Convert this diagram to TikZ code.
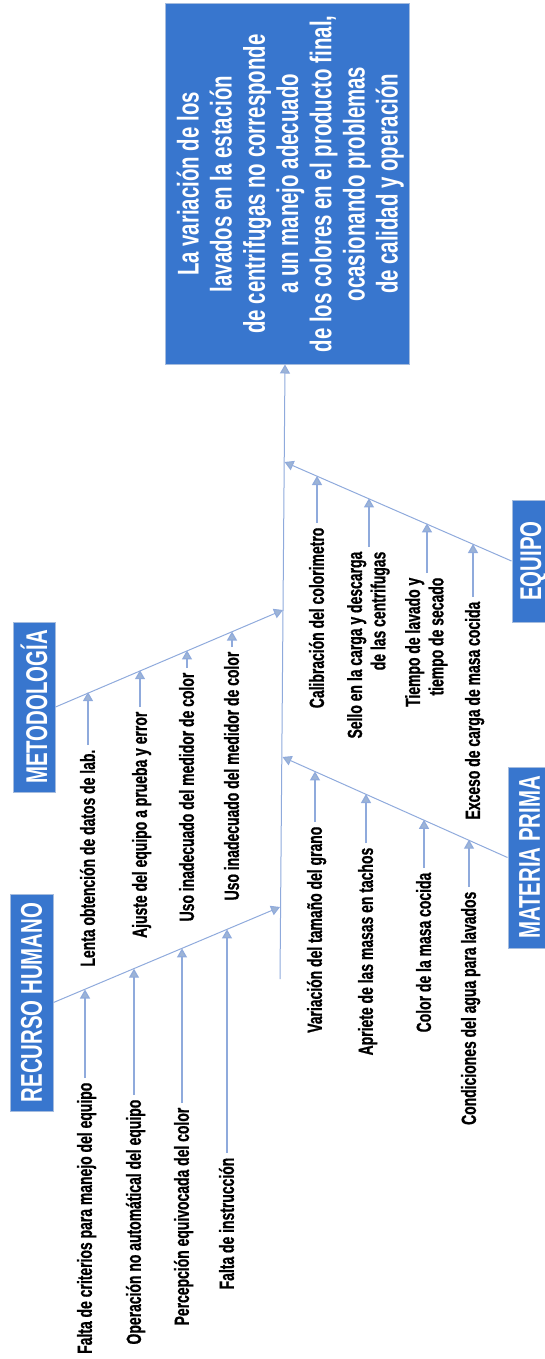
\documentclass[tikz,border=0pt]{standalone}
\usepackage{fontspec}
\setmainfont{Liberation Sans}
\newfontfamily\labfont[FakeStretch=0.68]{Liberation Sans}
\newfontfamily\causefont[FakeStretch=0.68,FakeBold=0.8]{Liberation Sans Bold}
\usetikzlibrary{arrows.meta}
\definecolor{boxblue}{RGB}{56,118,206}
\definecolor{boxedge}{RGB}{165,188,222}
\definecolor{linec}{RGB}{143,170,220}
\definecolor{tipc}{RGB}{157,180,214}
\begin{document}
\begin{tikzpicture}[x=1pt,y=-1pt,
  catbox/.style={draw=boxedge, line width=1pt, fill=boxblue, text=white, inner sep=0pt,
    font=\labfont\bfseries\fontsize{30}{33.2}\selectfont},
  titletext/.style={text=white, inner sep=0pt, font=\labfont\bfseries\fontsize{30}{33.2}\selectfont},
  cause/.style={anchor=north, inner xsep=0pt, inner ysep=4.5pt,
    font=\causefont\fontsize{20.5}{23.4}\selectfont},
  bone/.style={draw=linec, line width=1pt, -{Triangle[width=10pt,length=9pt,fill=tipc]}},
  sub/.style={draw=linec, line width=1.2pt, -{Triangle[width=10pt,length=9pt,fill=tipc]}}
]
\useasboundingbox (0,0) rectangle (545,1359);

% effect box
\node[catbox, minimum width=244pt, minimum height=360pt] (title) at (287,184) {};
\node[titletext] (ttext) at ([xshift=4.5pt]title.center) {\rotatebox{90}{\begin{tabular}{@{}c@{}}
La variación de los\\
lavados en la estación\\
de centrifugas no corresponde\\
a un manejo adecuado\\
de los colores en el producto final,\\
ocasionando problemas\\
de calidad y operación
\end{tabular}}};

% spine
\coordinate (sb) at (280,979);
\draw[bone] (sb) -- ([xshift=-2pt]title.south);

% category boxes
\node[catbox, minimum width=43pt, minimum height=217pt] (rh) at (31.5,1002.5) {\rotatebox{90}{RECURSO HUMANO}};
\node[catbox, minimum width=42pt, minimum height=170pt] (me) at (34,707) {\rotatebox{90}{METODOLOGÍA}};
\node[catbox, minimum width=43pt, minimum height=181pt] (mp) at (529.5,857.5) {\rotatebox{90}{MATERIA PRIMA}};
\node[catbox, minimum width=43pt, minimum height=122pt] (eq) at (533.5,561) {\rotatebox{90}{EQUIPO}};

% branch ends on spine
\coordinate (rhT) at (280,907);
\coordinate (meT) at (283,610);
\coordinate (mpT) at (282.5,757);
\coordinate (eqT) at (284.5,462);
\draw[bone] (rh.east) -- (rhT);
\draw[bone] (me.east) -- (meT);
\draw[bone] (mp.west) -- (mpT);
\draw[bone] (eq.west) -- (eqT);

% RECURSO HUMANO causes
\node[cause] (r1) at (85,1078) {\rotatebox{90}{Falta de criterios para manejo del equipo\vphantom{Ág}}};
\node[cause] (r2) at (134,1095) {\rotatebox{90}{Operación no automátical del equipo\vphantom{Ág}}};
\node[cause] (r3) at (182,1103) {\rotatebox{90}{Percepción equivocada del color\vphantom{Ág}}};
\node[cause] (r4) at (227,1153) {\rotatebox{90}{Falta de instrucción\vphantom{Ág}}};
\coordinate (r1t) at (85,989.5);
\coordinate (r2t) at (134,968.7);
\coordinate (r3t) at (182,948.4);
\coordinate (r4t) at (227,929.4);
\draw[sub] (r1.north) -- (r1t);
\draw[sub] (r2.north) -- (r2t);
\draw[sub] (r3.north) -- (r3t);
\draw[sub] (r4.north) -- (r4t);

% METODOLOGIA causes
\node[cause] (m1) at (88,745) {\rotatebox{90}{Lenta obtención de datos de lab.\vphantom{Ág}}};
\node[cause] (m2) at (140,707) {\rotatebox{90}{Ajuste del equipo a prueba y error\vphantom{Ág}}};
\node[cause] (m3) at (187,668) {\rotatebox{90}{Uso inadecuado del medidor de color\vphantom{Ág}}};
\node[cause] (m4) at (232,647) {\rotatebox{90}{Uso inadecuado del medidor de color\vphantom{Ág}}};
\coordinate (m1t) at (88,692.1);
\coordinate (m2t) at (140,670.2);
\coordinate (m3t) at (187,650.4);
\coordinate (m4t) at (232,631.5);
\draw[sub] (m1.north) -- (m1t);
\draw[sub] (m2.north) -- (m2t);
\draw[sub] (m3.north) -- (m3t);
\draw[sub] (m4.north) -- (m4t);

% MATERIA PRIMA causes
\node[cause] (p1) at (315,822) {\rotatebox{90}{Variación del tamaño del grano\vphantom{Ág}}};
\node[cause] (p2) at (366,843) {\rotatebox{90}{Apriete de las masas en tachos\vphantom{Ág}}};
\node[cause] (p3) at (424,868) {\rotatebox{90}{Color de la masa cocida\vphantom{Ág}}};
\node[cause] (p4) at (469,887) {\rotatebox{90}{Condiciones del agua para lavados\vphantom{Ág}}};
\coordinate (p1t) at (315,771.4);
\coordinate (p2t) at (366,794);
\coordinate (p3t) at (424,819.8);
\coordinate (p4t) at (469,839.7);
\draw[sub] (p1.north) -- (p1t);
\draw[sub] (p2.north) -- (p2t);
\draw[sub] (p3.north) -- (p3t);
\draw[sub] (p4.north) -- (p4t);

% EQUIPO causes
\node[cause] (e1) at (317,523) {\rotatebox{90}{Calibración del colorimetro\vphantom{Ág}}};
\node[cause] (e2) at (369,547) {\rotatebox{90}{\begin{tabular}{@{}r@{}}Sello en la carga y descarga\\de las centrifugas\end{tabular}}};
\node[cause] (e3) at (427,573) {\rotatebox{90}{\begin{tabular}{@{}r@{}}Tiempo de lavado y\\tiempo de secado\end{tabular}}};
\node[cause] (e4) at (473,597) {\rotatebox{90}{Exceso de carga de masa cocida\vphantom{Ág}}};
\coordinate (e1t) at (317,476);
\coordinate (e2t) at (369,498.4);
\coordinate (e3t) at (427,523.4);
\coordinate (e4t) at (473,544);
\draw[sub] (e1.north) -- (e1t);
\draw[sub] (e2.north) -- (e2t);
\draw[sub] (e3.north) -- (e3t);
\draw[sub] (e4.north) -- (e4t);
\end{tikzpicture}
\end{document}
